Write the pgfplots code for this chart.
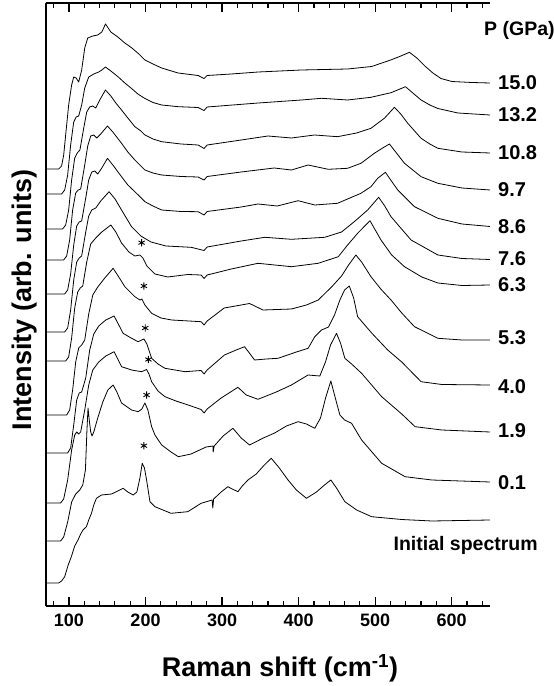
\documentclass[border=0pt]{standalone}
\usepackage{pgfplots}
\pgfplotsset{compat=1.18}
\usepackage{fontspec}
\setmainfont{Liberation Sans}
\pgfplotsset{spec/.style={black, line width=0.8pt, line join=round, mark=none}}
\begin{document}
\begin{tikzpicture}
\begin{axis}[
  name=ax, scale only axis, width=444pt, height=603pt,
  xmin=70, xmax=650, ymin=0, ymax=603,
  axis x line=box, axis y line=left,
  axis line style={-, line width=1.2pt},
  xtick={100,200,...,600}, minor xtick={80,100,...,640},
  ytick=\empty, tick align=inside, xtick pos=both,
  major tick length=9pt, minor tick length=5pt,
  tick style={line width=1.2pt, black},
  /pgf/number format/assume math mode=true,
  xticklabel style={font=\bfseries\fontsize{18}{18}\selectfont, yshift=-4.5pt},
  xlabel={Raman shift (cm\textsuperscript{-1})},
  ylabel={Intensity (arb. units)},
  xlabel style={at={(axis description cs:0.527,0)}, anchor=base, yshift=-70.7pt, font=\bfseries\fontsize{27}{30}\selectfont},
  ylabel style={at={(axis description cs:-0.0322,0.5075)}, anchor=base, font=\bfseries\fontsize{27}{30}\selectfont},
  clip=false,
]
% 15.0 GPa
\addplot[spec] coordinates {(70,437)(86.5,437)(90.4,440)(93.1,451)(95.7,471)(99.6,501)(103.5,521)(106.2,529)(109.4,528)(112.7,524)(116.6,536)(120.6,558)(124.5,568)(131.1,570)(137.6,571)(142.9,574)(147.7,582)(154.7,574)(163.8,569)(173,563)(182.2,558)(191.3,552)(199.2,546)(209.7,542)(221.1,538)(242.5,533)(268.7,530.5)(276.5,527.5)(280.5,530.5)(312,532)(347.3,534)(403.7,536)(464,537)(495.4,539.5)(520.3,546)(532,549.5)(544.8,553.7)(554.4,548)(564.9,540)(575.4,533)(585.9,527.5)(600.2,524.5)(626.5,523.5)(650,523)};
% 13.2 GPa
\addplot[spec] coordinates {(70,412)(90.4,412)(94.4,416)(98.3,431)(102.2,461)(106.2,484)(109.4,489)(112.7,490)(116.6,501)(120.6,518)(125.8,529)(132.4,532)(138.9,534)(142.9,536)(147.7,539)(154.7,535)(164.5,529)(173,523)(181.8,517.5)(190,512)(199.2,507.5)(209.7,503.5)(221.1,501)(242.9,499.3)(268.7,498.5)(276.5,495.5)(280.5,499)(347.3,503)(403.7,506)(429.9,507.7)(464,506)(494.5,508.7)(520.7,513.3)(539.6,519.3)(549.2,513)(560,506)(571.4,501)(581.9,497.5)(608.1,493)(650,491)};
% 10.8 GPa
\addplot[spec] coordinates {(70,377)(91.7,377)(95.7,381)(99.6,396)(103.5,426)(107.5,448)(110.8,453)(114.3,456)(119.3,478)(123.2,494)(127.1,499)(131.1,500)(135,498)(140.2,506)(147.7,516)(154.7,510)(161.2,503)(168.7,496)(176.9,488)(186.1,479.3)(194,475)(199.2,471)(209.7,467)(221.1,464.3)(246.4,462)(268.7,461)(276.5,457.5)(280.5,461)(325,466)(360,470)(390.6,468)(420.8,471)(450.8,469.3)(475.7,473)(494.5,477.7)(512,487.7)(525.2,498.7)(533.4,492)(542.6,482.7)(560,467.7)(571.4,462)(581.9,457.7)(613.4,454)(650,453)};
% 9.7 GPa
\addplot[spec] coordinates {(70,346)(93.1,346)(97,350)(100.9,366)(104.8,396)(108.8,413)(112.1,416)(115.3,417)(120.6,441)(124.5,460)(128.4,470)(132.4,471)(136.3,468)(141.5,472)(150.3,480)(157.3,474)(168.7,462.7)(176.9,454)(186.1,446)(199.2,436)(209.7,433)(221.1,431)(246.4,429.5)(268.7,429)(276.5,426)(280.5,429.5)(325,434)(368.1,438)(390.6,436)(412.4,441)(438.7,436.7)(464,437.7)(481.4,442.7)(498.9,452.7)(509.8,458)(518.6,462)(526.8,454)(538.3,442.7)(560,429.3)(581.9,422.7)(613.4,418)(650,416)};
% 8.6 GPa
\addplot[spec] coordinates {(70,312)(94.4,312)(98.3,316)(102.2,332)(106.2,361)(110.1,380)(113.4,384)(116.6,385)(121.9,408)(125.8,426)(129.8,434)(133.7,435)(137.6,432)(142.9,438)(150.3,447.7)(157.3,441)(168.7,429.3)(176.9,421)(186.1,414.3)(199.2,404.3)(209.7,400)(221.1,396)(246.4,394.5)(268.7,394.3)(276.5,391)(280.5,394.5)(325,399)(346.9,402)(372.2,400)(399.3,405.3)(421.1,401)(450.8,402.7)(481.4,412.7)(494.5,419.3)(503.3,427.7)(513.4,433.7)(520.3,426)(529.5,416)(551.4,399.3)(581.9,387.7)(613.4,382)(650,379.5)};
% 7.6 GPa
\addplot[spec] coordinates {(70,274)(94.4,274)(98.3,278)(102.2,296)(106.2,326)(110.1,344)(113.4,348)(116.6,350)(121.9,374)(125.8,390)(129.8,396)(135,398)(141.5,405)(152.4,414.3)(160.2,407)(168.7,396)(181.8,379.3)(194,370)(207.1,364)(226.7,360)(259.5,358.7)(276.5,355.5)(280.5,359)(325,365)(355.9,368.7)(390.6,366.7)(434.1,368.7)(456.1,374)(472.7,384.3)(490.2,396)(504.6,408.7)(512.5,400)(520.7,389.3)(546.9,366)(581.9,351)(613.4,347.5)(650,346.5)};
% 6.3 GPa
\addplot[spec] coordinates {(70,245)(95.7,245)(99.6,249)(103.5,268)(107.5,298)(111.4,314)(114.7,318)(118,320)(123.2,344)(128.4,362)(135,368)(142.9,374)(154.7,381)(161.2,374)(168.7,363)(178.3,354)(186.1,350)(192.7,351)(196.6,348)(201.8,340)(212.3,332)(229,329)(255.2,331.5)(272.6,331)(276.5,327.5)(280.5,331)(312,337)(346.9,342.7)(390.6,339.3)(425.6,342.7)(451.8,349.3)(464,361)(477.1,372.7)(493.2,385.3)(499.4,377)(507.6,366)(521.6,351)(538.3,339.3)(560.9,329)(581.9,323)(613.4,320.5)(650,321)};
% 5.3 GPa
\addplot[spec] coordinates {(70,191)(97,191)(100.9,196)(104.8,216)(108.8,244)(112.7,258)(116.6,261)(120.6,266)(125.8,292)(131.1,311)(137.6,319)(146.8,328)(157.7,337.7)(165.1,329)(173,319.3)(186.1,309.3)(192.7,306)(195.3,307)(199.2,301)(208,292.7)(220.2,288)(234.2,286)(272.6,284.3)(276.5,281)(280.5,285)(302.8,298)(325,301)(335.9,302.5)(353.5,296)(390.6,297)(410.2,301)(425.6,306)(443,319)(456.1,330)(465.3,341)(474.8,351)(482.3,344)(494.5,329.3)(507.3,317)(520.7,306)(534.7,293)(551.4,279.3)(581.9,267.7)(613.4,266)(650,266)};
% 4.0 GPa
\addplot[spec] coordinates {(70,153)(98.3,153)(102.2,158)(106.2,181)(110.1,206)(113.4,213)(116.6,214)(121.9,228)(127.1,256)(132.4,272)(138.9,280)(148.1,286)(159,290)(165.1,281)(170.7,272.7)(181.8,267.7)(190.4,264.3)(197.9,267)(201.8,262)(208,247.7)(216.3,242)(225.4,237.7)(251.6,234.3)(272.6,235.5)(276.5,232)(280.5,236)(303.1,251)(318.5,256)(329.4,259.3)(342.5,246)(357.8,247)(373.1,247.7)(397.1,254)(412.4,257.7)(421.1,269.3)(429.9,276)(439.1,279)(446.9,291)(453.9,306)(460,316)(466.2,320)(471.9,308)(477.1,289.3)(495.4,273)(516.4,256)(534.7,244)(560,224.3)(587.1,221.5)(650,221)};
% 1.9 GPa
\addplot[spec] coordinates {(70,103)(89.1,103)(93.1,107)(98.3,126)(103.5,156)(107.5,171)(110.1,174)(112.7,172)(115.3,174)(120.6,196)(125.8,221)(131.1,236)(138.9,244)(148.1,250)(159,254.3)(165.1,245)(168.7,239.3)(181.8,236)(194.9,234.3)(201.4,236.5)(204.5,232)(208,224.3)(216.3,215)(225.4,209.3)(239.8,205)(259.5,200)(272.6,196.5)(276.5,193)(280.5,197)(298.8,208)(320.7,218.7)(331.6,211)(346.9,206.7)(370.8,214)(390.6,221)(412.4,231)(427.7,230)(435.1,244)(441.7,261)(449.5,272.7)(454.7,263)(460.4,247.7)(469.2,242)(482.3,232.7)(508.5,209.3)(534.7,192)(552.2,179.3)(587.1,176)(650,174)};
% 0.1 GPa
\addplot[spec] coordinates {(70,65)(89.1,65)(93.1,69)(98.3,84)(103.5,104)(108.8,112)(114.1,116)(118,121)(121.5,136)(123.5,176)(124.9,198)(126.5,186)(128.4,174)(130.1,170)(132.4,174)(137.6,188)(144.2,204)(150.8,216)(157.7,221)(162.6,214)(168.7,203)(181.8,196)(190.4,194.3)(195.3,197)(199.2,203)(203.1,196)(208,179.3)(212.3,171)(221.1,161)(233.3,154)(242.9,149.3)(259.5,152)(279.2,159)(288,160)(288.4,154)(289.7,160)(301.4,170)(314.2,177.7)(325,168)(335.9,161)(353.9,168)(368.7,173)(384.1,180)(399.3,184.3)(410.2,182)(421.1,177.7)(428.6,188)(435.2,208)(442.1,225)(446.9,211)(453.9,191)(460.1,186)(469.2,182.7)(482.3,166)(508.5,142.7)(539.1,129.3)(574,126)(650,124)};
% initial
\addplot[spec] coordinates {(70,23)(86.5,23)(90.4,25)(94.4,29.3)(99,41)(103.1,49.3)(107.5,60)(111.8,66)(115.3,72)(118.3,76)(122.8,79.3)(125.8,86)(129.4,92.7)(132.4,101)(135.9,107.7)(142.5,111)(155.6,112)(163.8,115)(170.8,117.7)(176.9,114)(183.9,111)(188.7,114)(192.7,128)(195.7,142.7)(198.6,138)(201.4,126)(205.8,104.3)(212.3,99.3)(222.8,96)(233.3,92.7)(255.2,94.3)(272.6,102.7)(287,106)(287.9,98)(289,107)(298.8,114)(307.6,119.3)(313.3,117)(320.7,114.3)(326.4,120)(333.8,126)(344.7,132)(355.2,141)(364.3,147.7)(374.8,138)(386.2,126)(397.1,116)(410.2,107.7)(423.3,114)(433.8,121)(442.1,126)(449.5,118)(460.4,104.3)(475.8,96)(495.4,89.3)(534.7,86.5)(574,85)(650,86)};
% asterisks
\addplot[only marks, mark=asterisk, mark size=3.6pt, mark options={line width=0.9pt, black}] coordinates {(194.9,363.3)(197.9,320)(199.6,278)(203.8,246.5)(201.4,211)(197.9,160.3)};
% labels
\node[anchor=west, font=\bfseries\fontsize{19.5}{20}\selectfont, inner sep=0pt] at (axis cs:642.2,576) {P (GPa)};
\begin{scope}[every node/.style={anchor=west, font=\bfseries\fontsize{20}{20}\selectfont, inner sep=0pt, xshift=8pt}]
\node at (axis cs:650,523) {15.0};
\node at (axis cs:650,491.5) {13.2};
\node at (axis cs:650,453) {10.8};
\node at (axis cs:650,416.5) {9.7};
\node at (axis cs:650,379.5) {8.6};
\node at (axis cs:650,347.5) {7.6};
\node at (axis cs:650,321.5) {6.3};
\node at (axis cs:650,268.5) {5.3};
\node at (axis cs:650,219) {4.0};
\node at (axis cs:650,175.5) {1.9};
\node at (axis cs:650,123) {0.1};
\end{scope}
\node[anchor=west, font=\bfseries\fontsize{19.5}{20}\selectfont, inner sep=0pt] at (axis cs:523.8,61) {Initial spectrum};
\end{axis}
\pgfresetboundingbox
\path[use as bounding box] ([shift={(-46pt,-80pt)}]ax.south west) rectangle ([shift={(64pt,3pt)}]ax.north east);
\end{tikzpicture}
\end{document}
